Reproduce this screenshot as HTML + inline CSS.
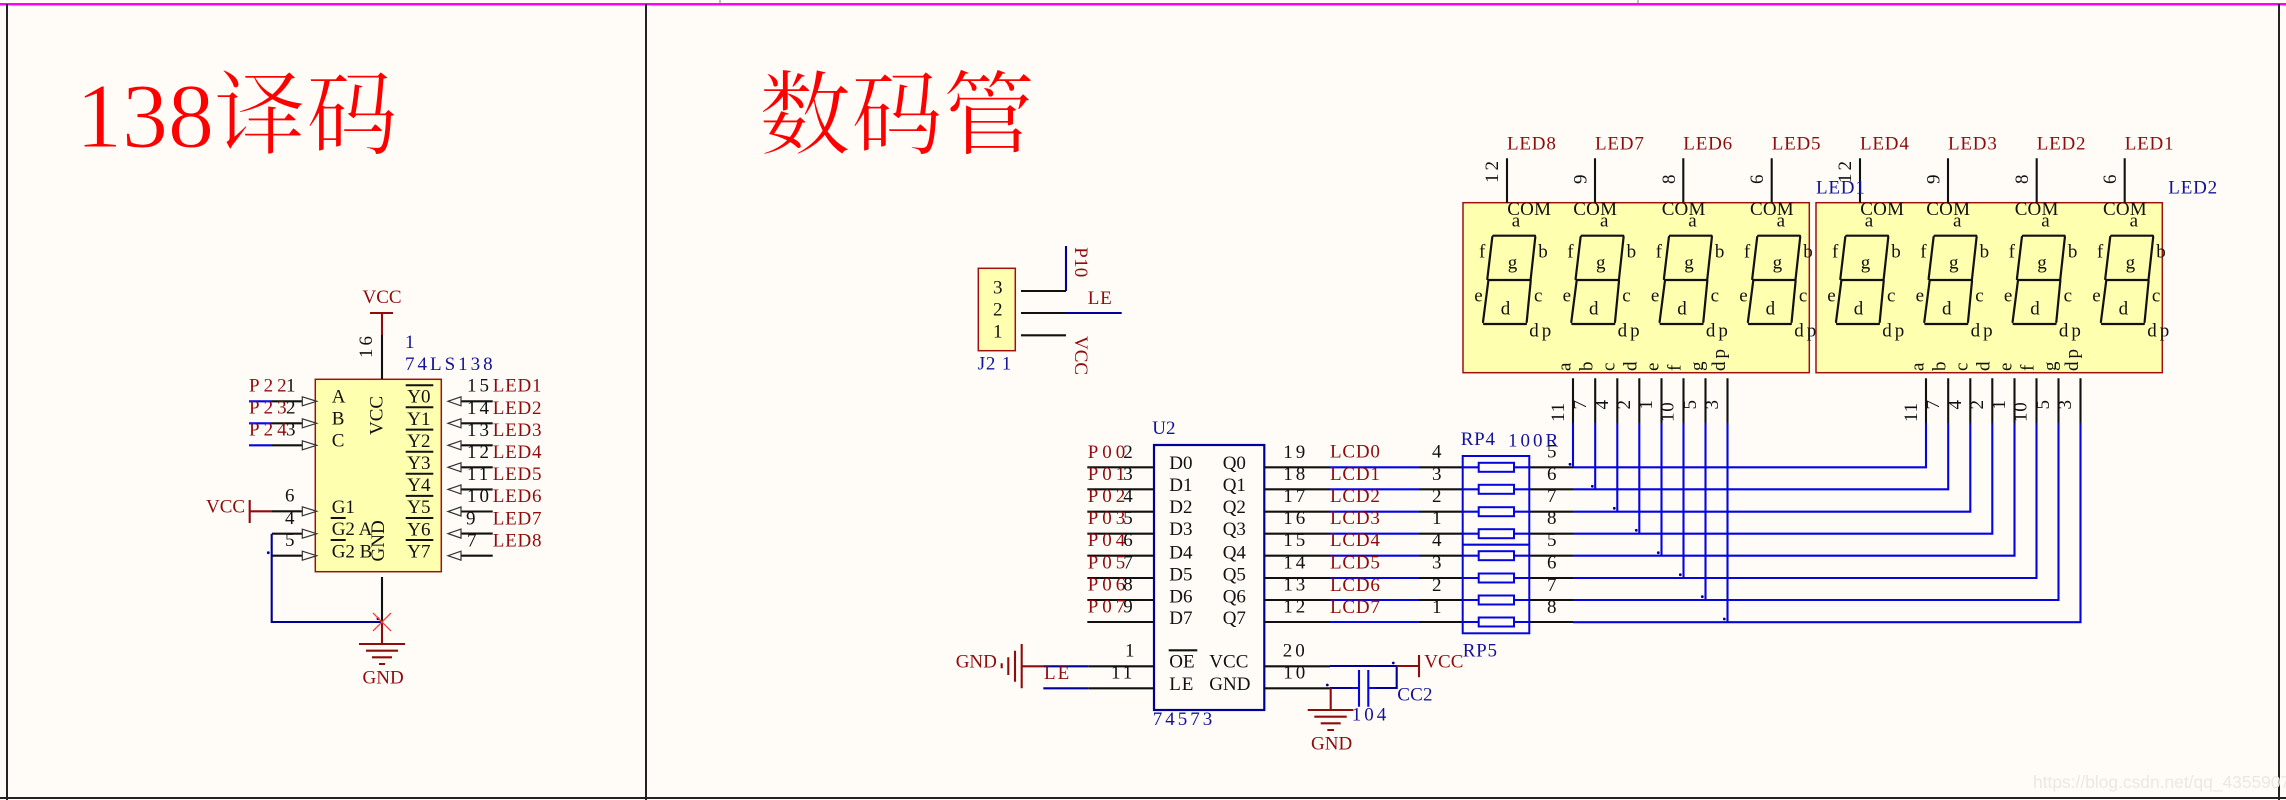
<!DOCTYPE html>
<html><head><meta charset="utf-8"><title>schematic</title>
<style>
html,body{margin:0;padding:0;background:#fffcf8}
svg{display:block}
text{font-family:"Liberation Serif","Noto Serif CJK SC",serif;font-size:19px;fill:#111}
.r{fill:#8f0c0c}.b{fill:#12129a}
.s1{letter-spacing:.8px}.s3{letter-spacing:3px}.s4{letter-spacing:4px}.s5{letter-spacing:.2px}
.t{font-size:92px;fill:#ff0000;stroke:#fffcf8;stroke-width:.9px}
.w{font-family:"Liberation Sans",sans-serif;font-size:17.4px;fill:#ebe7e3}
.k{stroke:#111;stroke-width:2.1;fill:none}
.dr{stroke:#8f0c0c;stroke-width:2.1;fill:none}
.db{stroke:#000098;stroke-width:2.1;fill:none}
.bb{stroke:#0505e0;stroke-width:2.1;fill:none}
.box{fill:#ffffb0;stroke:#a01010;stroke-width:1.5}
</style></head>
<body>
<svg xmlns="http://www.w3.org/2000/svg" width="2286" height="800" viewBox="0 0 2286 800">
<defs>
<g id="seg" stroke="#111" stroke-width="2.2" fill="none" stroke-linecap="round">
<path d="M1493.3 235.7H1535M1488.3 280H1530.7M1484 324H1526"/>
<path d="M1492.3 237L1487.3 279M1535.3 237L1530.7 279M1488.3 281L1483 322M1530.7 281L1526.7 322"/>
</g>
<path id="triR" d="M302.3 -4.5L316.7 0L302.3 4.5Z" fill="#fffcf8" stroke="#333" stroke-width="1.2"/>
<path id="triL" d="M461 -4.5L448 0L461 4.5Z" fill="#fffcf8" stroke="#333" stroke-width="1.2"/>
<rect id="res" x="1478.7" y="-4.5" width="35.3" height="9" fill="#fffcf8" stroke="#0505e0" stroke-width="2"/>
</defs>
<rect width="2286" height="800" fill="#fffcf8"/>

<!-- frame -->
<path d="M720 0V3M1638 0V3" stroke="#aaa" stroke-width="1.5"/>
<path d="M0 4.2H2286" stroke="#ff00ff" stroke-width="2.5"/>
<path d="M7 4V800M646 4V800M2279 4V800M0 798H2286" stroke="#222" stroke-width="2"/>

<text class="t" x="76" y="147">138译码</text>
<text class="t" x="759" y="147">数码管</text>

<!-- 74LS138 -->
<rect class="box" x="315.3" y="379.3" width="126" height="192.4"/>
<path class="dr" d="M370 313H393M382 313V335"/>
<path class="k" d="M382 335V379M382 577V622"/>
<path class="dr" d="M382 622V644M359 644H405M366 650.7H398M372 657.3H392M379 664H385"/>
<text class="r" x="362.5" y="303">VCC</text>
<text class="r" x="362.5" y="683.3">GND</text>
<text transform="translate(372,358) rotate(-90)" class="s3">16</text>
<text class="b" x="405" y="348">1</text>
<text class="b s3" x="405" y="370">74LS138</text>

<path class="bb" d="M249 401.3H272M249 423.3H272M249 445.3H272"/>
<path class="k" d="M272 401.3H303M272 423.3H303M272 445.3H303M272 511.3H303M272 533.7H303M272 555.7H303"/>
<path class="dr" d="M249.7 500V523M249.7 511.3H272"/>
<path class="db" d="M271.7 533.7V622H382"/>
<use href="#triR" y="401.3"/><use href="#triR" y="423.3"/><use href="#triR" y="445.3"/>
<use href="#triR" y="511.3"/><use href="#triR" y="533.7"/><use href="#triR" y="555.7"/>
<circle cx="268.3" cy="552.7" r="1.4" fill="#000098"/><circle cx="378" cy="618.7" r="1.4" fill="#000098"/>
<path d="M373 613L391 631M391 613L373 631" stroke="#ff3a3a" stroke-width="1.3"/>

<text class="r s4" x="249" y="391.7">P22</text><text x="286" y="391.7">1</text>
<text class="r s4" x="249" y="413.7">P23</text><text x="286" y="413.7">2</text>
<text class="r s4" x="249" y="435.7">P24</text><text x="286" y="435.7">3</text>
<text class="r" x="206" y="512.3">VCC</text>
<text x="285" y="501.7">6</text><text x="285" y="524">4</text><text x="285" y="546">5</text>

<text x="331.7" y="402.7">A</text><text x="331.7" y="424.7">B</text><text x="331.7" y="446.7">C</text>
<text x="331.7" y="513">G1</text><text x="331.7" y="535">G2 A</text><text x="331.7" y="557.7">G2 B</text>
<path class="k" d="M330.7 518H345.7M330.7 540H345.7"/>
<text transform="translate(382.7,435) rotate(-90)">VCC</text>
<text transform="translate(384,561.5) rotate(-90)">GND</text>

<path d="M405.7 385.3H433.3M405.7 407.3H433.3M405.7 429.6H433.3M405.7 451.7H433.3M405.7 473.8H433.3M405.7 495.9H433.3M405.7 518H433.3M405.7 540H433.3" stroke="#111" stroke-width="2"/>
<text x="407.3" y="402.7">Y0</text><text x="407.3" y="424.8">Y1</text><text x="407.3" y="446.9">Y2</text><text x="407.3" y="469">Y3</text><text x="407.3" y="491.1">Y4</text><text x="407.3" y="513.2">Y5</text><text x="407.3" y="535.3">Y6</text><text x="407.3" y="557.7">Y7</text>

<path class="k" d="M460 401.3H492.7M460 423.3H492.7M460 445.3H492.7M460 467.3H492.7M460 489.4H492.7M460 511.5H492.7M460 533.6H492.7M460 555.7H492.7"/>
<use href="#triL" y="401.3"/><use href="#triL" y="423.3"/><use href="#triL" y="445.3"/><use href="#triL" y="467.3"/><use href="#triL" y="489.4"/><use href="#triL" y="511.5"/><use href="#triL" y="533.6"/><use href="#triL" y="555.7"/>
<text class="s3" x="467" y="391.7">15</text><text class="s3" x="467" y="413.8">14</text><text class="s3" x="467" y="435.9">13</text><text class="s3" x="467" y="458">12</text><text class="s3" x="467" y="480.1">11</text><text class="s3" x="467" y="502.2">10</text><text x="466" y="524.3">9</text><text x="467" y="546.4">7</text>
<text class="r s1" x="492.7" y="391.7">LED1</text><text class="r s1" x="492.7" y="413.8">LED2</text><text class="r s1" x="492.7" y="435.9">LED3</text><text class="r s1" x="492.7" y="458">LED4</text><text class="r s1" x="492.7" y="480.1">LED5</text><text class="r s1" x="492.7" y="502.2">LED6</text><text class="r s1" x="492.7" y="524.3">LED7</text><text class="r s1" x="492.7" y="546.4">LED8</text>

<!-- J21 -->
<rect class="box" x="978.3" y="268.3" width="37" height="82.4"/>
<text x="993" y="293.3">3</text><text x="993" y="315.3">2</text><text x="993" y="337.3">1</text>
<path class="k" d="M1021 291H1066M1021 313H1066M1021 335.3H1066"/>
<path class="db" d="M1066 291V246M1066 313H1121.7"/>
<text class="r s1" x="1087.7" y="304">LE</text>
<text class="r s5" transform="translate(1075,247.3) rotate(90)">P10</text>
<text class="r" transform="translate(1075,336) rotate(90)">VCC</text>
<text class="b s1" x="977.7" y="369.3">J2 1</text>

<!-- 7-seg boxes -->
<rect class="box" x="1463" y="202.7" width="346.3" height="170"/>
<rect class="box" x="1816" y="202.7" width="346.3" height="170"/>
<path class="k" d="M1507 158.3V202.7M1595 158.3V202.7M1683.3 158.3V202.7M1771.7 158.3V202.7M1860 158.3V202.7M1948 158.3V202.7M2036.7 158.3V202.7M2124.7 158.3V202.7"/>
<text class="r s1" x="1507" y="149.3">LED8</text><text class="r s1" x="1595" y="149.3">LED7</text><text class="r s1" x="1683.3" y="149.3">LED6</text><text class="r s1" x="1771.7" y="149.3">LED5</text>
<text class="r s1" x="1860" y="149.3">LED4</text><text class="r s1" x="1948" y="149.3">LED3</text><text class="r s1" x="2036.7" y="149.3">LED2</text><text class="r s1" x="2124.7" y="149.3">LED1</text>
<text class="b s1" x="1816" y="193.3">LED1</text><text class="b s1" x="2168.3" y="193.3">LED2</text>
<text class="s3" transform="translate(1498,183) rotate(-90)">12</text><text transform="translate(1586.7,184) rotate(-90)">9</text><text transform="translate(1675,184) rotate(-90)">8</text><text transform="translate(1763,184) rotate(-90)">6</text>
<text class="s3" transform="translate(1851,183) rotate(-90)">12</text><text transform="translate(1939.7,184) rotate(-90)">9</text><text transform="translate(2028,184) rotate(-90)">8</text><text transform="translate(2116,184) rotate(-90)">6</text>
<text class="s5" x="1507.3" y="215">COM</text><text class="s5" x="1573.3" y="215">COM</text><text class="s5" x="1661.7" y="215">COM</text><text class="s5" x="1750" y="215">COM</text>
<text class="s5" x="1860.3" y="215">COM</text><text class="s5" x="1926.3" y="215">COM</text><text class="s5" x="2014.7" y="215">COM</text><text class="s5" x="2103" y="215">COM</text>

<g><use href="#seg"/><text x="1511.7" y="226.7">a</text><text x="1479" y="257.3">f</text><text x="1538.3" y="257.3">b</text><text x="1507.7" y="268.3">g</text><text x="1474.3" y="301.7">e</text><text x="1534" y="301.7">c</text><text x="1500.7" y="314.3">d</text><text class="s3" x="1529.3" y="336.7">dp</text></g>
<g transform="translate(88.3,0)"><use href="#seg"/><text x="1511.7" y="226.7">a</text><text x="1479" y="257.3">f</text><text x="1538.3" y="257.3">b</text><text x="1507.7" y="268.3">g</text><text x="1474.3" y="301.7">e</text><text x="1534" y="301.7">c</text><text x="1500.7" y="314.3">d</text><text class="s3" x="1529.3" y="336.7">dp</text></g>
<g transform="translate(176.6,0)"><use href="#seg"/><text x="1511.7" y="226.7">a</text><text x="1479" y="257.3">f</text><text x="1538.3" y="257.3">b</text><text x="1507.7" y="268.3">g</text><text x="1474.3" y="301.7">e</text><text x="1534" y="301.7">c</text><text x="1500.7" y="314.3">d</text><text class="s3" x="1529.3" y="336.7">dp</text></g>
<g transform="translate(264.9,0)"><use href="#seg"/><text x="1511.7" y="226.7">a</text><text x="1479" y="257.3">f</text><text x="1538.3" y="257.3">b</text><text x="1507.7" y="268.3">g</text><text x="1474.3" y="301.7">e</text><text x="1534" y="301.7">c</text><text x="1500.7" y="314.3">d</text><text class="s3" x="1529.3" y="336.7">dp</text></g>
<g transform="translate(353,0)"><use href="#seg"/><text x="1511.7" y="226.7">a</text><text x="1479" y="257.3">f</text><text x="1538.3" y="257.3">b</text><text x="1507.7" y="268.3">g</text><text x="1474.3" y="301.7">e</text><text x="1534" y="301.7">c</text><text x="1500.7" y="314.3">d</text><text class="s3" x="1529.3" y="336.7">dp</text></g>
<g transform="translate(441.3,0)"><use href="#seg"/><text x="1511.7" y="226.7">a</text><text x="1479" y="257.3">f</text><text x="1538.3" y="257.3">b</text><text x="1507.7" y="268.3">g</text><text x="1474.3" y="301.7">e</text><text x="1534" y="301.7">c</text><text x="1500.7" y="314.3">d</text><text class="s3" x="1529.3" y="336.7">dp</text></g>
<g transform="translate(529.6,0)"><use href="#seg"/><text x="1511.7" y="226.7">a</text><text x="1479" y="257.3">f</text><text x="1538.3" y="257.3">b</text><text x="1507.7" y="268.3">g</text><text x="1474.3" y="301.7">e</text><text x="1534" y="301.7">c</text><text x="1500.7" y="314.3">d</text><text class="s3" x="1529.3" y="336.7">dp</text></g>
<g transform="translate(617.9,0)"><use href="#seg"/><text x="1511.7" y="226.7">a</text><text x="1479" y="257.3">f</text><text x="1538.3" y="257.3">b</text><text x="1507.7" y="268.3">g</text><text x="1474.3" y="301.7">e</text><text x="1534" y="301.7">c</text><text x="1500.7" y="314.3">d</text><text class="s3" x="1529.3" y="336.7">dp</text></g>

<!-- bottom pins + labels, two boxes -->
<g>
<path class="k" d="M1573 378.3V423M1595.2 378.3V423M1617.3 378.3V423M1639.3 378.3V423M1661.5 378.3V423M1683.5 378.3V423M1705.5 378.3V423M1727.5 378.3V423"/>
<text transform="translate(1570.5,371) rotate(-90)">a</text><text transform="translate(1592.5,371) rotate(-90)">b</text><text transform="translate(1614.5,371) rotate(-90)">c</text><text transform="translate(1636.5,371) rotate(-90)">d</text><text transform="translate(1658.5,371) rotate(-90)">e</text><text transform="translate(1680.5,371) rotate(-90)">f</text><text transform="translate(1703,371) rotate(-90)">g</text><text class="s3" transform="translate(1725,371) rotate(-90)">dp</text>
<text class="s1" transform="translate(1564,422) rotate(-90)">11</text><text transform="translate(1586,409.5) rotate(-90)">7</text><text transform="translate(1608,409.5) rotate(-90)">4</text><text transform="translate(1630,409.5) rotate(-90)">2</text><text transform="translate(1652,409.5) rotate(-90)">1</text><text class="s1" transform="translate(1673.5,422) rotate(-90)">10</text><text transform="translate(1696,409.5) rotate(-90)">5</text><text transform="translate(1718,409.5) rotate(-90)">3</text>
</g>
<g transform="translate(353,0)">
<path class="k" d="M1573 378.3V423M1595.2 378.3V423M1617.3 378.3V423M1639.3 378.3V423M1661.5 378.3V423M1683.5 378.3V423M1705.5 378.3V423M1727.5 378.3V423"/>
<text transform="translate(1570.5,371) rotate(-90)">a</text><text transform="translate(1592.5,371) rotate(-90)">b</text><text transform="translate(1614.5,371) rotate(-90)">c</text><text transform="translate(1636.5,371) rotate(-90)">d</text><text transform="translate(1658.5,371) rotate(-90)">e</text><text transform="translate(1680.5,371) rotate(-90)">f</text><text transform="translate(1703,371) rotate(-90)">g</text><text class="s3" transform="translate(1725,371) rotate(-90)">dp</text>
<text class="s1" transform="translate(1564,422) rotate(-90)">11</text><text transform="translate(1586,409.5) rotate(-90)">7</text><text transform="translate(1608,409.5) rotate(-90)">4</text><text transform="translate(1630,409.5) rotate(-90)">2</text><text transform="translate(1652,409.5) rotate(-90)">1</text><text class="s1" transform="translate(1673.5,422) rotate(-90)">10</text><text transform="translate(1696,409.5) rotate(-90)">5</text><text transform="translate(1718,409.5) rotate(-90)">3</text>
</g>

<!-- wires -->
<path class="bb" d="M1330 467.3H1419M1330 489.3H1419M1330 511.7H1419M1330 533.7H1419M1330 555.7H1419M1330 578H1419M1330 600H1419M1330 622H1419"/>
<path class="bb" d="M1462.7 467.3H1478.7M1514 467.3H1529.3M1462.7 489.3H1478.7M1514 489.3H1529.3M1462.7 511.7H1478.7M1514 511.7H1529.3M1462.7 533.7H1478.7M1514 533.7H1529.3M1462.7 555.7H1478.7M1514 555.7H1529.3M1462.7 578H1478.7M1514 578H1529.3M1462.7 600H1478.7M1514 600H1529.3M1462.7 622H1478.7M1514 622H1529.3"/>
<path class="k" d="M1419 467.3H1462.7M1419 489.3H1462.7M1419 511.7H1462.7M1419 533.7H1462.7M1419 555.7H1462.7M1419 578H1462.7M1419 600H1462.7M1419 622H1462.7"/>
<path class="k" d="M1529.3 467.3H1573M1529.3 489.3H1573M1529.3 511.7H1573M1529.3 533.7H1573M1529.3 555.7H1573M1529.3 578H1573M1529.3 600H1573M1529.3 622H1573"/>
<path class="bb" d="M1573 467.3H1926V423M1573 489.3H1948.2V423M1573 511.7H1970.3V423M1573 533.7H1992.3V423M1573 555.7H2014.5V423M1573 578H2036.5V423M1573 600H2058.5V423M1573 622.2H2080.5V423"/>
<path class="bb" d="M1573 423V467.3M1595.2 423V489.3M1617.3 423V511.7M1639.3 423V533.7M1661.5 423V555.7M1683.5 423V578M1705.5 423V600M1727.5 423V622"/>
<g fill="#000098"><circle cx="1570" cy="464.3" r="1.4"/><circle cx="1592.3" cy="486.3" r="1.4"/><circle cx="1614.3" cy="508.3" r="1.4"/><circle cx="1636.3" cy="530.3" r="1.4"/><circle cx="1658.3" cy="552.7" r="1.4"/><circle cx="1680.3" cy="574.7" r="1.4"/><circle cx="1702.3" cy="596.7" r="1.4"/><circle cx="1724.3" cy="619" r="1.4"/></g>

<!-- resistor pack -->
<rect x="1462.7" y="456" width="66.6" height="177.3" fill="none" stroke="#0505e0" stroke-width="2"/>
<path class="bb" d="M1462.7 544.7H1529.3"/>
<use href="#res" y="467.3"/><use href="#res" y="489.3"/><use href="#res" y="511.7"/><use href="#res" y="533.7"/><use href="#res" y="555.7"/><use href="#res" y="578"/><use href="#res" y="600"/><use href="#res" y="622"/>
<text class="b s1" x="1460.7" y="445">RP4</text><text class="b s3" x="1508" y="446.7">100R</text><text class="b s1" x="1462.7" y="656.7">RP5</text>
<text x="1432" y="457.7">4</text><text x="1432" y="479.8">3</text><text x="1432" y="501.9">2</text><text x="1432" y="524">1</text><text x="1432" y="546.1">4</text><text x="1432" y="568.7">3</text><text x="1432" y="590.8">2</text><text x="1432" y="612.9">1</text>
<text x="1547" y="457.7">5</text><text x="1547" y="479.8">6</text><text x="1547" y="501.9">7</text><text x="1547" y="524">8</text><text x="1547" y="546.1">5</text><text x="1547" y="568.7">6</text><text x="1547" y="590.8">7</text><text x="1547" y="612.9">8</text>
<text class="r s1" x="1330" y="457.7">LCD0</text><text class="r s1" x="1330" y="479.8">LCD1</text><text class="r s1" x="1330" y="501.9">LCD2</text><text class="r s1" x="1330" y="524">LCD3</text><text class="r s1" x="1330" y="546.1">LCD4</text><text class="r s1" x="1330" y="568.7">LCD5</text><text class="r s1" x="1330" y="590.8">LCD6</text><text class="r s1" x="1330" y="612.9">LCD7</text>

<!-- 74573 -->
<rect x="1154" y="445" width="110.3" height="265" fill="none" stroke="#000098" stroke-width="2.2"/>
<text class="b" x="1152.3" y="434">U2</text>
<text class="b s3" x="1152.7" y="725">74573</text>
<path class="k" d="M1087.3 467.3H1154M1087.3 489.3H1154M1087.3 511.7H1154M1087.3 533.7H1154M1087.3 555.7H1154M1087.3 578H1154M1087.3 600H1154M1087.3 622H1154"/>
<path class="k" d="M1264.3 467.3H1330M1264.3 489.3H1330M1264.3 511.7H1330M1264.3 533.7H1330M1264.3 555.7H1330M1264.3 578H1330M1264.3 600H1330M1264.3 622H1330"/>
<text class="r s4" x="1087.7" y="458">P00</text><text x="1123.3" y="458">2</text>
<text class="r s4" x="1087.7" y="480">P01</text><text x="1123.3" y="480">3</text>
<text class="r s4" x="1087.7" y="502">P02</text><text x="1123.3" y="502">4</text>
<text class="r s4" x="1087.7" y="524">P03</text><text x="1123.3" y="524">5</text>
<text class="r s4" x="1087.7" y="546">P04</text><text x="1123.3" y="546">6</text>
<text class="r s4" x="1087.7" y="568.7">P05</text><text x="1123.3" y="568.7">7</text>
<text class="r s4" x="1087.7" y="590.7">P06</text><text x="1123.3" y="590.7">8</text>
<text class="r s4" x="1087.7" y="612.7">P07</text><text x="1123.3" y="612.7">9</text>
<text class="s3" x="1283.3" y="458">19</text><text class="s3" x="1283.3" y="480">18</text><text class="s3" x="1283.3" y="502">17</text><text class="s3" x="1283.3" y="524">16</text><text class="s3" x="1283.3" y="546">15</text><text class="s3" x="1283.3" y="568.7">14</text><text class="s3" x="1283.3" y="590.7">13</text><text class="s3" x="1283.3" y="612.7">12</text>
<text x="1169.3" y="469">D0</text><text x="1169.3" y="491">D1</text><text x="1169.3" y="513">D2</text><text x="1169.3" y="535">D3</text><text x="1169.3" y="558.3">D4</text><text x="1169.3" y="580.3">D5</text><text x="1169.3" y="602.3">D6</text><text x="1169.3" y="624">D7</text>
<text x="1222.7" y="469">Q0</text><text x="1222.7" y="491">Q1</text><text x="1222.7" y="513">Q2</text><text x="1222.7" y="535">Q3</text><text x="1222.7" y="558.3">Q4</text><text x="1222.7" y="580.3">Q5</text><text x="1222.7" y="602.3">Q6</text><text x="1222.7" y="624">Q7</text>
<text x="1169.3" y="667.7">OE</text><text class="s1" x="1169.3" y="690">LE</text><text x="1209.3" y="667.7">VCC</text><text x="1209.3" y="690">GND</text>
<path class="k" d="M1168.7 650.3H1197.3M1088.3 666.3H1154M1088.3 688.3H1154M1264.3 666.3H1330M1264.3 688.3H1330"/>
<text x="1125" y="656.7">1</text><text class="s3" x="1111" y="678.7">11</text><text class="s3" x="1282.7" y="656.7">20</text><text class="s3" x="1283.3" y="678.7">10</text>
<path class="dr" d="M1021.7 644V688.3M1015 650.7V681.7M1008.3 657.3V675M1001.7 663.3V668.3M1021.7 666.3H1043.3"/>
<path class="db" d="M1043.3 666.3H1088.3M1043.3 688.3H1088.3"/>
<text class="r" x="955.7" y="667.7">GND</text>
<text class="r s1" x="1044" y="679" style="letter-spacing:2px">LE</text>

<path class="db" d="M1330 666H1396.7V688H1375M1330 688H1352"/>
<path class="bb" d="M1352 688H1359M1368.3 688H1375M1359 670V706.7M1368.3 670V706.7"/>
<path class="dr" d="M1396.7 666H1419M1419 655V677.3"/>
<text class="r" x="1424.3" y="667.7">VCC</text>
<text class="b s5" x="1397.3" y="700.7">CC2</text>
<text class="b s3" x="1351.7" y="720.7">104</text>
<circle cx="1393.3" cy="663" r="1.4" fill="#000098"/>
<path class="dr" d="M1330.7 688V710M1307.7 710H1353.3M1314.3 716.7H1346.7M1320.7 723.3H1340.7M1327.3 730H1334"/>
<circle cx="1327.3" cy="685" r="1.4" fill="#000098"/>
<text class="r" x="1311" y="749.3">GND</text>

<text class="w" x="2033" y="788">https://blog.csdn.net/qq_43559074</text>
</svg>
</body></html>
